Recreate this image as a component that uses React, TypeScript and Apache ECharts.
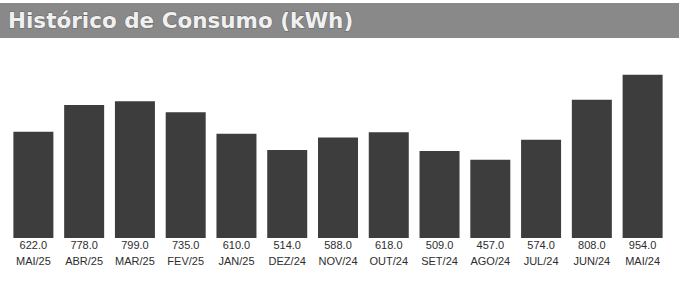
import React, { useEffect, useRef } from "react";
import * as echarts from "echarts";

const categories = ["MAI/25", "ABR/25", "MAR/25", "FEV/25", "JAN/25", "DEZ/24", "NOV/24", "OUT/24", "SET/24", "AGO/24", "JUL/24", "JUN/24", "MAI/24"];
const consumo = [622, 778, 799, 735, 610, 514, 588, 618, 509, 457, 574, 808, 954];
const title = "Histórico de Consumo (kWh)";

export default function App() {
  const ref = useRef<HTMLDivElement>(null);
  useEffect(() => {
    const chart = echarts.init(ref.current!, null, { renderer: "svg" });
    chart.setOption({
      animation: false,
      backgroundColor: "#ffffff",
      graphic: [
        { type: "rect", shape: { x: 0, y: 3, width: 679, height: 35 }, style: { fill: "#898989" } },
        {
          type: "text",
          x: 8,
          y: 20,
          style: {
            text: title,
            fill: "#f0f0f0",
            font: "bold 21.5px 'DejaVu Sans', Verdana, sans-serif",
            textVerticalAlign: "middle",
            stroke: "#666666",
            lineWidth: 1,
          },
        },
      ],
      grid: { left: 8, right: 11, top: 67, bottom: 45, containLabel: false },
      xAxis: {
        type: "category",
        data: categories,
        axisLine: { show: false },
        axisTick: { show: false },
        axisLabel: {
          margin: -1,
          interval: 0,
          formatter: (v: string, i: number) => `{v|${consumo[i].toFixed(1)}}\n{c|${v}}`,
          rich: {
            v: { fontFamily: "'Liberation Sans', Arial, sans-serif", fontSize: 11, color: "#2e2e2e", lineHeight: 16 },
            c: { fontFamily: "'Liberation Sans', Arial, sans-serif", fontSize: 11, color: "#2e2e2e", lineHeight: 16 },
          },
        },
      },
      yAxis: { type: "value", min: 0, max: 1000, show: false, splitLine: { show: false } },
      series: [
        {
          type: "bar",
          data: consumo,
          barWidth: 40,
          itemStyle: { color: "#3d3d3d" },
        },
      ],
    });
    return () => chart.dispose();
  }, []);
  return <div ref={ref} style={{ width: 679, height: 283, position: "absolute", left: 0, top: 0 }} />;
}
